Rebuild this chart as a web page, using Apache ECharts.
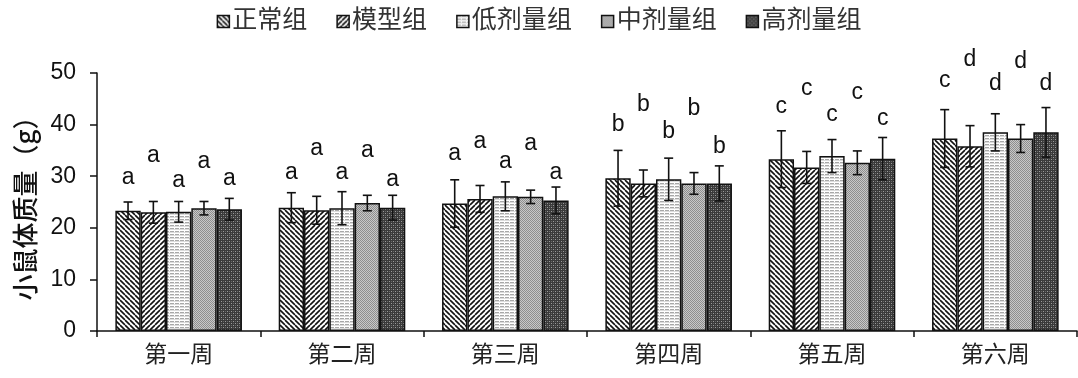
<!DOCTYPE html>
<html>
<head>
<meta charset="utf-8">
<script src="https://cdn.jsdelivr.net/npm/echarts@6/dist/echarts.min.js"></script>
<style>
html,body{margin:0;padding:0;background:#fff;}
#chart{width:1078px;height:378px;}
</style>
</head>
<body>
<div id="chart"></div>
<script>
// Weekly body weight of mice per group (mean ± SD), with significance letters
const weeks = ['第一周', '第二周', '第三周', '第四周', '第五周', '第六周'];
const groups = ['正常组', '模型组', '低剂量组', '中剂量组', '高剂量组'];

const meanNormal = [23.3, 23.9, 24.7, 29.6, 33.3, 37.3];
const meanModel  = [23.0, 23.4, 25.6, 28.6, 31.7, 35.8];
const meanLow    = [23.1, 23.8, 26.1, 29.4, 33.9, 38.5];
const meanMid    = [23.8, 24.8, 26.0, 28.6, 32.6, 37.3];
const meanHigh   = [23.6, 23.9, 25.3, 28.6, 33.4, 38.5];

const sdNormal = [1.7, 2.9, 4.6, 5.4, 5.5, 5.6];
const sdModel  = [2.1, 2.7, 2.6, 2.6, 3.1, 4.0];
const sdLow    = [2.0, 3.2, 2.8, 4.1, 3.2, 3.6];
const sdMid    = [1.3, 1.5, 1.3, 2.1, 2.3, 2.7];
const sdHigh   = [2.1, 2.4, 2.6, 3.4, 4.1, 4.8];

const letterNormal = ['a', 'a', 'a', 'b', 'c', 'c'];
const letterModel  = ['a', 'a', 'a', 'b', 'c', 'd'];
const letterLow    = ['a', 'a', 'a', 'b', 'c', 'd'];
const letterMid    = ['a', 'a', 'a', 'b', 'c', 'd'];
const letterHigh   = ['a', 'a', 'a', 'b', 'c', 'd'];

// height (in grams, on the value axis) where each letter sits
const letterAtNormal = [29.7, 30.6, 34.3, 39.9, 43.5, 48.5];
const letterAtModel  = [33.9, 35.4, 36.7, 43.8, 47.0, 52.5];
const letterAtLow    = [29.1, 30.6, 32.8, 38.6, 41.9, 48.0];
const letterAtMid    = [32.8, 34.9, 36.4, 43.0, 46.1, 52.2];
const letterAtHigh   = [29.6, 29.4, 30.7, 35.7, 41.1, 48.0];

const yTicks = [0, 10, 20, 30, 40, 50];

const means = [meanNormal, meanModel, meanLow, meanMid, meanHigh];
const sds = [sdNormal, sdModel, sdLow, sdMid, sdHigh];
const letters = [letterNormal, letterModel, letterLow, letterMid, letterHigh];
const letterAts = [letterAtNormal, letterAtModel, letterAtLow, letterAtMid, letterAtHigh];

// ---- fill patterns ----
function makeTile(w, h, draw) {
  const c = document.createElement('canvas');
  c.width = w; c.height = h;
  const g = c.getContext('2d');
  draw(g, w, h);
  return { image: c, repeat: 'repeat' };
}
function diag(dir) {
  return makeTile(5, 5, (g, w, h) => {
    g.fillStyle = '#fff'; g.fillRect(0, 0, w, h);
    g.strokeStyle = '#111'; g.lineWidth = 1.6;
    for (let k = -w; k <= w; k += w) {
      g.beginPath();
      if (dir > 0) { g.moveTo(k, 0); g.lineTo(k + w, h); }
      else { g.moveTo(k + w, 0); g.lineTo(k, h); }
      g.stroke();
    }
  });
}
const patterns = [
  diag(1),
  diag(-1),
  makeTile(5, 3, (g, w, h) => {
    g.fillStyle = '#fff'; g.fillRect(0, 0, w, h);
    g.fillStyle = '#a8a8a8'; g.fillRect(0, 0, 4, 1);
    g.fillStyle = '#dcdcdc'; g.fillRect(0, 1, 5, 1);
  }),
  makeTile(2, 2, (g, w, h) => {
    g.fillStyle = '#c8c8c8'; g.fillRect(0, 0, w, h);
    g.fillStyle = '#8e8e8e'; g.fillRect(0, 0, 1, 1); g.fillRect(1, 1, 1, 1);
  }),
  makeTile(4, 4, (g, w, h) => {
    g.fillStyle = '#3a3a3a'; g.fillRect(0, 0, w, h);
    g.fillStyle = '#9a9a9a'; g.fillRect(1, 1, 1, 1); g.fillRect(3, 3, 1, 1);
    g.fillStyle = '#666'; g.fillRect(3, 1, 1, 1); g.fillRect(1, 3, 1, 1);
  })
];

const catGap = 0.225;
const font = '"Liberation Sans", "Noto Sans CJK SC", sans-serif';

function errorSeries(gi) {
  const data = weeks.map((w, i) => [i, means[gi][i], sds[gi][i], letterAts[gi][i], letters[gi][i]]);
  return {
    type: 'custom',
    name: groups[gi] + '_err',
    z: 5,
    clip: false,
    silent: true,
    data: data,
    encode: { x: 0, y: 1 },
    renderItem: function (params, api) {
      const ci = api.value(0);
      const m = api.value(1), sd = api.value(2), ly = api.value(3);
      const band = api.size([1, 0])[0];
      const bw = band * (1 - catGap) / groups.length;
      const cx = api.coord([ci, 0])[0] - band * (1 - catGap) / 2 + bw * gi + bw / 2;
      const yTop = api.coord([ci, m + sd])[1];
      const yBot = api.coord([ci, m - sd])[1];
      const yL = api.coord([ci, ly])[1];
      const cap = 4.5;
      const st = { stroke: '#111', lineWidth: 1.6 };
      return {
        type: 'group',
        children: [
          { type: 'line', shape: { x1: cx, y1: yTop, x2: cx, y2: yBot }, style: st },
          { type: 'line', shape: { x1: cx - cap, y1: yTop, x2: cx + cap, y2: yTop }, style: st },
          { type: 'line', shape: { x1: cx - cap, y1: yBot, x2: cx + cap, y2: yBot }, style: st },
          { type: 'text', x: cx, y: yL, style: { text: data[params.dataIndex][4], fill: '#111', font: '23px ' + font, align: 'center', verticalAlign: 'middle' } }
        ]
      };
    }
  };
}

const barSeries = groups.map((g, gi) => ({
  type: 'bar',
  name: g,
  data: means[gi],
  barGap: '0%',
  barCategoryGap: (catGap * 100) + '%',
  itemStyle: { color: patterns[gi], borderColor: '#111', borderWidth: 1.5 },
  emphasis: { disabled: true },
  animation: false
}));

const chart = echarts.init(document.getElementById('chart'), null, { renderer: 'canvas' });
chart.setOption({
  animation: false,
  backgroundColor: '#fff',
  legend: {
    data: groups,
    top: 4,
    left: 'center',
    itemWidth: 12,
    itemHeight: 12,
    itemGap: 29,
    icon: 'rect',
    itemStyle: { borderColor: '#111', borderWidth: 1.5 },
    textStyle: { fontSize: 25, color: '#333', fontFamily: font, padding: [0, 0, 0, -2] }
  },
  grid: { left: 97, right: 1, top: 73, bottom: 47 },
  xAxis: {
    type: 'category',
    data: weeks,
    axisLine: { lineStyle: { color: '#111', width: 1.5 } },
    axisTick: { show: true, length: 6, lineStyle: { color: '#111', width: 1.5 } },
    axisLabel: { fontSize: 23, color: '#222', margin: 13, fontFamily: font }
  },
  yAxis: {
    type: 'value',
    min: yTicks[0],
    max: yTicks[yTicks.length - 1],
    interval: 10,
    name: '小鼠体质量（g）',
    nameLocation: 'middle',
    nameGap: 59,
    nameTextStyle: { fontSize: 26, fontWeight: 500, color: '#111', fontFamily: '"Noto Sans CJK SC", sans-serif' },
    axisLine: { show: true, lineStyle: { color: '#111', width: 1.5 } },
    axisTick: { show: true, length: 7, lineStyle: { color: '#111', width: 1.5 } },
    axisLabel: { fontSize: 23, color: '#111', margin: 21, fontFamily: font },
    splitLine: { show: false }
  },
  series: barSeries.concat(groups.map((g, gi) => errorSeries(gi)))
});
</script>
</body>
</html>
